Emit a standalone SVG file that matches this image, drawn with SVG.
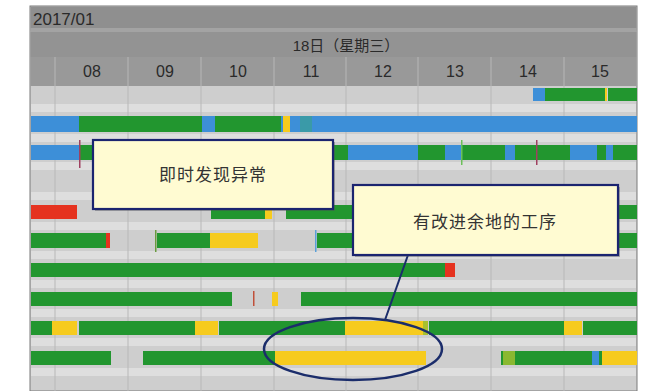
<svg xmlns="http://www.w3.org/2000/svg" width="655" height="391" viewBox="0 0 655 391">
<style>
.hdr{font-family:"Liberation Sans","Noto Sans CJK SC",sans-serif;fill:#2a2a2a}
.hr{font-size:16px;text-anchor:middle}
.g{fill:#22962f}.b{fill:#3d8fd8}.y{fill:#f6cb1e}.r{fill:#e5321f}
.grid{stroke:#b8b8b8;stroke-width:1}
.sep{stroke:#b3b3b3;stroke-width:1.2}
.box{fill:#fffbd2;stroke:#1b2470;stroke-width:2.2}
.shadow{fill:#555;opacity:0.4}
.lbl{font-family:"Liberation Sans","Noto Sans CJK SC",sans-serif;font-size:17px;letter-spacing:1px;fill:#333;text-anchor:middle}
.lead{stroke:#1b2d6b;stroke-width:2;fill:none}
</style>
<rect x="0" y="0" width="655" height="391" fill="#fff"/>
<g id="chart">
<rect x="30" y="6" width="607" height="385" fill="#cecece" stroke="#7a7a7a" stroke-width="1"/>
<g id="header">
<rect x="30.5" y="6.5" width="606" height="24" fill="#8f8f8f"/>
<rect x="30.5" y="28" width="606" height="4" fill="#a3a3a3"/>
<rect x="30.5" y="32" width="606" height="25" fill="#939393"/>
<rect x="30.5" y="57" width="606" height="29" fill="#999"/>
<text class="hdr" x="33" y="25" font-size="17">2017/01</text>
<text class="hdr" x="346" y="51" font-size="15" text-anchor="middle">18日（星期三）</text>
<g class="sep"><line x1="55" y1="57" x2="55" y2="86"/><line x1="128" y1="57" x2="128" y2="86"/><line x1="201" y1="57" x2="201" y2="86"/><line x1="274" y1="57" x2="274" y2="86"/><line x1="346" y1="57" x2="346" y2="86"/><line x1="418" y1="57" x2="418" y2="86"/><line x1="491" y1="57" x2="491" y2="86"/><line x1="564" y1="57" x2="564" y2="86"/></g>
<g class="hdr hr"><text x="92" y="77">08</text><text x="165" y="77">09</text><text x="238" y="77">10</text><text x="311" y="77">11</text><text x="383" y="77">12</text><text x="455" y="77">13</text><text x="528" y="77">14</text><text x="600" y="77">15</text></g>
</g>
<g id="stripes" fill="#dedede">
<rect x="31" y="104" width="605" height="8"/><rect x="31" y="134" width="605" height="8"/><rect x="31" y="162" width="605" height="8"/><rect x="31" y="192" width="605" height="8"/><rect x="31" y="222" width="605" height="8"/><rect x="31" y="251" width="605" height="8"/><rect x="31" y="280" width="605" height="8"/><rect x="31" y="309" width="605" height="8"/><rect x="31" y="338" width="605" height="8"/><rect x="31" y="368" width="605" height="8"/>
</g>
<g class="grid"><line x1="55" y1="86" x2="55" y2="391"/><line x1="128" y1="86" x2="128" y2="391"/><line x1="201" y1="86" x2="201" y2="391"/><line x1="274" y1="86" x2="274" y2="391"/><line x1="346" y1="86" x2="346" y2="391"/><line x1="418" y1="86" x2="418" y2="391"/><line x1="491" y1="86" x2="491" y2="391"/><line x1="564" y1="86" x2="564" y2="391"/></g>
<g id="bars">
<rect class="b" x="533" y="88" width="12" height="13"/><rect class="g" x="545" y="88" width="60" height="13"/><rect class="y" x="605" y="88" width="2" height="13"/><rect class="g" x="608" y="88" width="29" height="13"/>
<rect class="b" x="31" y="116" width="606" height="16"/><rect class="g" x="79" y="116" width="123" height="16"/><rect class="g" x="215" y="116" width="66" height="16"/><rect class="y" x="283" y="116" width="7" height="16"/><rect x="300" y="116" width="12" height="16" fill="#3a9aa8"/>
<rect class="b" x="31" y="145" width="606" height="15"/><rect class="g" x="80" y="145" width="20" height="15"/><rect class="g" x="320" y="145" width="28" height="15"/><rect class="g" x="418" y="145" width="27" height="15"/><rect class="g" x="461" y="145" width="44" height="15"/><rect class="g" x="515" y="145" width="55" height="15"/><rect class="g" x="597" y="145" width="9" height="15"/><rect class="g" x="613" y="145" width="24" height="15"/>
<rect x="79" y="140" width="1.5" height="28" fill="#a04060"/><rect x="536" y="140" width="1.5" height="25" fill="#a04060"/><rect x="461" y="140" width="1.5" height="25" fill="#6cc05a"/>
<rect class="r" x="31" y="205" width="46" height="14"/><rect class="g" x="211" y="205" width="55" height="14"/><rect class="y" x="265" y="205" width="7" height="14"/><rect class="g" x="286" y="205" width="80" height="14"/><rect class="g" x="616" y="205" width="21" height="14"/>
<rect class="g" x="31" y="233" width="75" height="15"/><rect class="r" x="106" y="233" width="4" height="15"/><rect x="155" y="230" width="1.5" height="22" fill="#6a9a40"/><rect class="g" x="157" y="233" width="53" height="15"/><rect class="y" x="210" y="233" width="48" height="15"/><rect x="315" y="230" width="1.5" height="22" fill="#5aa0d8"/><rect class="g" x="317" y="233" width="50" height="15"/><rect class="g" x="616" y="233" width="21" height="15"/>
<rect class="g" x="31" y="263" width="415" height="14"/><rect class="r" x="445" y="263" width="10" height="14"/>
<rect class="g" x="31" y="292" width="201" height="14"/><rect x="253" y="291" width="1.5" height="15" fill="#c0503a"/><rect class="y" x="272" y="292" width="6" height="14"/><rect class="g" x="301" y="292" width="336" height="14"/>
<rect class="g" x="31" y="321" width="21" height="14"/><rect class="y" x="52" y="321" width="25" height="14"/><rect class="g" x="79" y="321" width="116" height="14"/><rect class="y" x="195" y="321" width="23" height="14"/><rect class="g" x="219" y="321" width="126" height="14"/><rect class="y" x="345" y="321" width="78" height="14"/><rect x="423" y="321" width="5" height="14" fill="#a8c030"/><rect class="g" x="429" y="321" width="135" height="14"/><rect class="y" x="564" y="321" width="18" height="14"/><rect class="g" x="583" y="321" width="54" height="14"/>
<rect class="g" x="31" y="351" width="80" height="14"/><rect class="g" x="143" y="351" width="132" height="14"/><rect class="y" x="275" y="351" width="151" height="14"/><rect class="g" x="501" y="351" width="92" height="14"/><rect x="503" y="351" width="12" height="14" fill="#8ab830"/><rect class="b" x="592" y="351" width="7" height="14"/><rect class="g" x="599" y="351" width="3" height="14"/><rect class="y" x="602" y="351" width="35" height="14"/>
</g>
</g>
<g id="connectors">
<line class="lead" x1="408" y1="255" x2="385" y2="320"/>
</g>
<g id="highlight">
<ellipse cx="353" cy="349" rx="89" ry="31" fill="none" stroke="#1b2d6b" stroke-width="2.5"/>
</g>
<g id="callout-abnormal">
<rect class="shadow" x="95" y="142" width="240" height="69"/>
<rect class="box" x="93" y="140" width="240" height="69"/>
<text class="lbl" x="213" y="181">即时发现异常</text>
</g>
<g id="callout-improve">
<rect class="shadow" x="355" y="187" width="265" height="70"/>
<rect class="box" x="353" y="185" width="265" height="70"/>
<text class="lbl" x="485" y="228">有改进余地的工序</text>
</g>
</svg>
